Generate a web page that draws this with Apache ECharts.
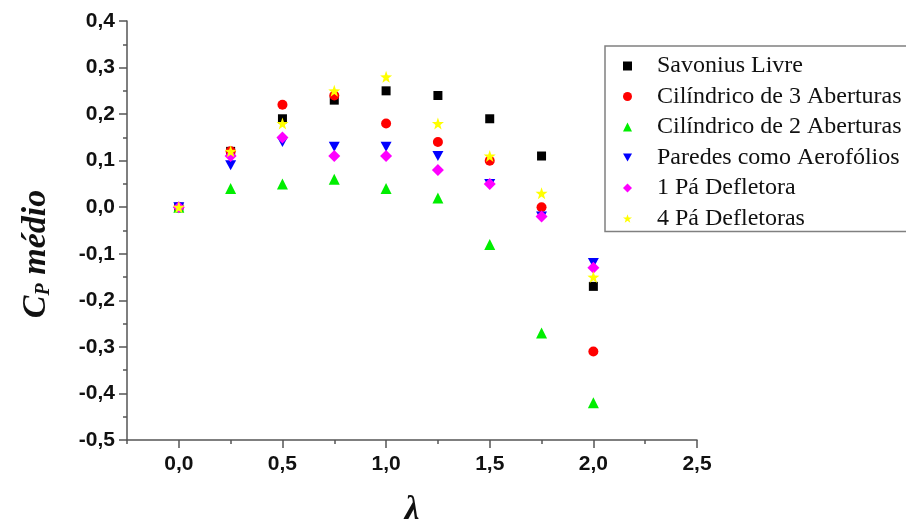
<!DOCTYPE html>
<html>
<head>
<meta charset="utf-8">
<script src="https://cdn.jsdelivr.net/npm/echarts@6/dist/echarts.min.js"></script>
<style>html,body{margin:0;padding:0;background:#fff}#c{width:906px;height:529px}</style>
</head>
<body>
<div id="c"></div>
<script>
const lambda = [0, 0.25, 0.5, 0.75, 1.0, 1.25, 1.5, 1.75, 2.0];
const savoniusLivre = [0, 0.12, 0.19, 0.23, 0.25, 0.24, 0.19, 0.11, -0.17];
const cilindrico3 = [0, 0.12, 0.22, 0.24, 0.18, 0.14, 0.10, 0.00, -0.31];
const cilindrico2 = [0, 0.04, 0.05, 0.06, 0.04, 0.02, -0.08, -0.27, -0.42];
const paredesAerofolios = [0, 0.09, 0.14, 0.13, 0.13, 0.11, 0.05, -0.02, -0.12];
const umPa = [0, 0.11, 0.15, 0.11, 0.11, 0.08, 0.05, -0.02, -0.13];
const quatroPa = [0, 0.12, 0.18, 0.25, 0.28, 0.18, 0.11, 0.03, -0.15];
const seriesNames = ['Savonius Livre', 'Cilíndrico de 3 Aberturas', 'Cilíndrico de 2 Aberturas', 'Paredes como Aerofólios', '1 Pá Defletora', '4 Pá Defletoras'];
const xTicks = [0, 0.5, 1.0, 1.5, 2.0, 2.5];

const star = 'path://M0,-10 L2.35,-3.24 L9.51,-3.09 L3.8,1.24 L5.88,8.09 L0,4 L-5.88,8.09 L-3.8,1.24 L-9.51,-3.09 L-2.35,-3.24 Z';
const downTriangle = 'path://M0,0 L10,0 L5,8.66 Z';
const styles = [
  {color: '#000000', symbol: 'rect', size: 9},
  {color: '#ff0000', symbol: 'circle', size: 10},
  {color: '#00ee00', symbol: 'triangle', size: 11},
  {color: '#0000ff', symbol: downTriangle, size: [11, 10]},
  {color: '#ff00ff', symbol: 'diamond', size: 12},
  {color: '#ffff00', symbol: star, size: 12}
];
const allData = [savoniusLivre, cilindrico3, cilindrico2, paredesAerofolios, umPa, quatroPa];
const fmt = v => (Math.round(v * 10) / 10).toFixed(1).replace('.', ',');
const axisColor = '#555';

const chart = echarts.init(document.getElementById('c'), null, {renderer: 'canvas'});
chart.setOption({
  animation: false,
  backgroundColor: '#fff',
  grid: {left: 127, right: 209, top: 21, bottom: 89, outerBoundsMode: 'none', containLabel: false},
  legend: {
    orient: 'vertical', left: 605, top: 46,
    padding: [8, 20, 1, 18], itemGap: 6.5,
    itemWidth: 9, itemHeight: 9,
    borderColor: '#808080', borderWidth: 1.5,
    textStyle: {fontFamily: 'Liberation Serif', fontSize: 24, color: '#111', padding: [0, 0, 0, 20]},
    data: seriesNames
  },
  xAxis: [{
    type: 'value', min: -0.25, max: 2.5,
    axisLine: {onZero: false, lineStyle: {color: axisColor, width: 1.5}},
    axisTick: {customValues: xTicks, length: 8, lineStyle: {color: axisColor, width: 1.5}},
    axisLabel: {customValues: xTicks, formatter: fmt, margin: 14, fontFamily: 'Liberation Sans', fontWeight: 'bold', fontSize: 21, color: '#111'},
    splitLine: {show: false},
    name: 'λ', nameLocation: 'middle', nameGap: 54,
    nameTextStyle: {fontFamily: 'Liberation Serif', fontStyle: 'italic', fontWeight: 'bold', fontSize: 33, color: '#111'}
  }, {
    type: 'value', min: -0.25, max: 2.5, interval: 0.25, position: 'bottom',
    axisLine: {show: false, onZero: false},
    axisTick: {length: 4, lineStyle: {color: axisColor, width: 1.5}},
    axisLabel: {show: false},
    splitLine: {show: false}
  }],
  yAxis: {
    type: 'value', min: -0.5, max: 0.4, interval: 0.1,
    axisLine: {show: true, onZero: false, lineStyle: {color: axisColor, width: 1.5}},
    axisTick: {show: true, length: 8, lineStyle: {color: axisColor, width: 1.5}},
    minorTick: {show: true, splitNumber: 2, length: 4, lineStyle: {color: axisColor, width: 1.5}},
    axisLabel: {formatter: fmt, margin: 12, fontFamily: 'Liberation Sans', fontWeight: 'bold', fontSize: 21, color: '#111'},
    splitLine: {show: false}
  },
  graphic: [{
    type: 'text', x: 18, y: 254, rotation: Math.PI / 2,
    style: {
      text: '{c|C}{p|P}{m| médio}',
      align: 'center', verticalAlign: 'top',
      rich: {
        c: {fontFamily: 'Liberation Serif', fontStyle: 'italic', fontWeight: 'bold', fontSize: 34, fill: '#111'},
        p: {fontFamily: 'Liberation Serif', fontStyle: 'italic', fontWeight: 'bold', fontSize: 20, fill: '#111', padding: [16, 0, 0, 0]},
        m: {fontFamily: 'Liberation Serif', fontStyle: 'italic', fontWeight: 'bold', fontSize: 34, fill: '#111'}
      }
    }
  }],
  series: allData.map((vals, i) => ({
    name: seriesNames[i], type: 'scatter', xAxisIndex: 0,
    symbol: styles[i].symbol, symbolSize: styles[i].size,
    itemStyle: {color: styles[i].color, opacity: 1},
    data: lambda.map((x, j) => [x, vals[j]]),
    z: 2 + i
  }))
});
</script>
</body>
</html>
